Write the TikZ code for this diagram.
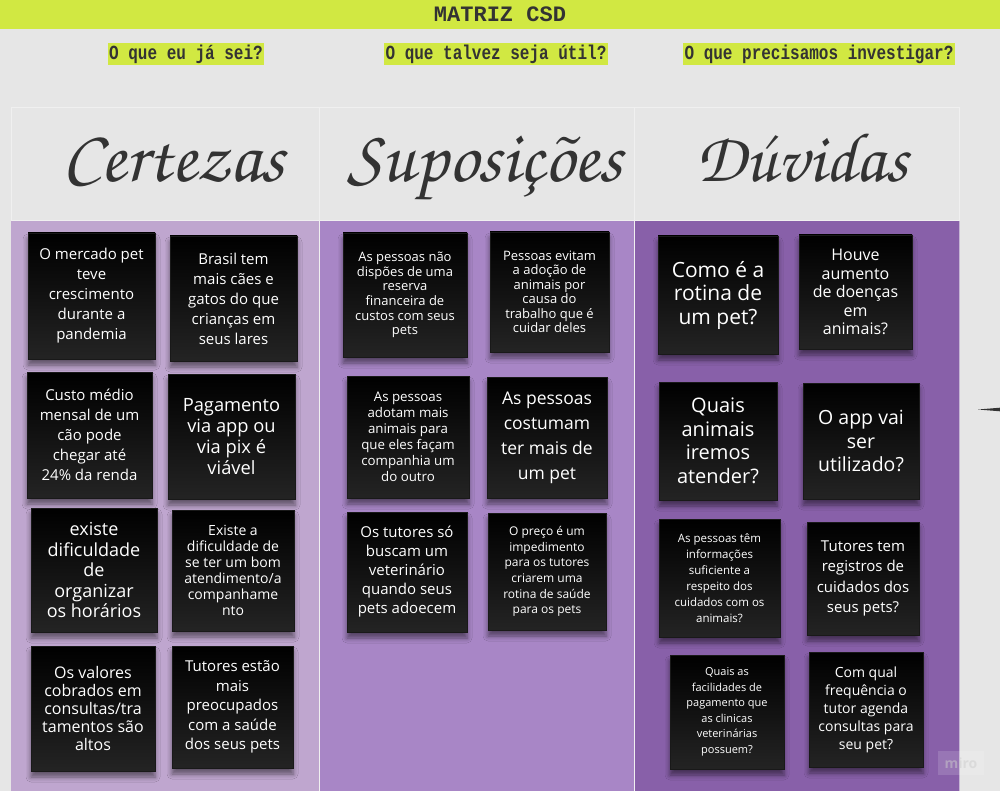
\documentclass[tikz,border=0pt]{standalone}
\usepackage[T1]{fontenc}
\usepackage{fontspec}
\setmainfont{Open Sans}
\newfontfamily\monof{Liberation Mono}
\newfontfamily\monol{Liberation Mono}[FakeStretch=0.8]
\usetikzlibrary{shadows.blur}
\newcommand\handfont{\fontencoding{T1}\fontfamily{pzc}\fontseries{m}\fontshape{it}\selectfont}
\definecolor{lime}{HTML}{D1E842}
\definecolor{bggray}{HTML}{E6E6E6}
\definecolor{edgegray}{HTML}{F0F0F0}
\definecolor{pA}{HTML}{BFA6CF}
\definecolor{pB}{HTML}{A886C6}
\definecolor{pC}{HTML}{8860A9}
\definecolor{ink}{HTML}{333333}
\begin{document}
\begin{tikzpicture}[x=1pt,y=-1pt,
  fs/.style 2 args={font=\fontsize{#1}{#2}\selectfont},
  note/.style={draw=black!90!white, line width=0.4pt, top color=black, bottom color=black!86!white,
    text=white, align=center, inner sep=2pt,
    blur shadow={shadow xshift=0pt, shadow yshift=-6pt, shadow opacity=50, shadow blur radius=5pt}},
  lbl/.style={fill=lime, text=ink, inner xsep=1.5pt, inner ysep=0pt, minimum height=22pt,
    font=\monol\bfseries\fontsize{20}{20}\selectfont},
  heading/.style={anchor=base, text=ink, font=\handfont\fontsize{74}{74}\selectfont}]
\fill[bggray] (0,0) rectangle (1000,791);
\useasboundingbox (0,0) rectangle (1000,791);
% title bar
\fill[lime] (0,0) rectangle (1000,29);
\node[text=ink, font=\monof\bfseries\fontsize{22}{22}\selectfont] (title) at (500,14.5) {MATRIZ CSD};
% question labels
\node[lbl] (l1) at (186,54) {O que eu já sei?};
\node[lbl] (l2) at (496,54) {O que talvez seja útil?};
\node[lbl] (l3) at (819,54) {O que precisamos investigar?};
% board
\fill[pA] (11,221) rectangle (319,791);
\fill[pB] (319,221) rectangle (634,791);
\fill[pC] (634,221) rectangle (959,791);
\draw[edgegray, line width=1pt] (11,108) rectangle (959,221);
\draw[edgegray, line width=1pt] (319,108) -- (319,791);
\draw[edgegray, line width=1pt] (634,108) -- (634,791);
\draw[edgegray!60!pC, line width=1pt] (959,221) -- (959,791);
% headings
\node[heading] (hC) at (173,182) {Certezas};
\node[heading] (hS) at (485,182) {Suposi\c{c}\~oes};
\node[heading, font=\handfont\fontsize{70}{70}\selectfont] (hD) at (802,182) {D\'uvidas};
% Certezas
\node[note, minimum width=127pt, minimum height=126pt, fs={15}{20}] (c1) at (91.5,296) {O mercado pet\\teve\\crescimento\\durante a\\pandemia};
\node[note, minimum width=127pt, minimum height=125pt, fs={15}{20}] (c2) at (233.5,298.5) {Brasil tem\\mais cães e\\gatos do que\\crianças em\\seus lares};
\node[note, minimum width=125pt, minimum height=126pt, fs={15}{20}] (c3) at (89.5,435) {Custo médio\\mensal de um\\cão pode\\chegar até\\24\% da renda};
\node[note, minimum width=127pt, minimum height=125pt, fs={18.3}{21}] (c4) at (231.5,436.5) {Pagamento\\via app ou\\via pix é\\viável};
\node[note, minimum width=126pt, minimum height=124pt, fs={18}{20.5}] (c5) at (94,570) {existe\\dificuldade\\de\\organizar\\os horários};
\node[note, minimum width=122pt, minimum height=121pt, fs={14}{16}] (c6) at (233,570.5) {Existe a\\dificuldade de\\se ter um bom\\atendimento/a\\companhame\\nto};
\node[note, minimum width=124pt, minimum height=125pt, fs={16}{18}] (c7) at (93,708.5) {Os valores\\cobrados em\\consultas/tra\\tamentos são\\altos};
\node[note, minimum width=121pt, minimum height=122pt, fs={15}{19.5}] (c8) at (232.5,707) {Tutores estão\\mais\\preocupados\\com a saúde\\dos seus pets};
% Suposicoes
\node[note, minimum width=124pt, minimum height=124pt, fs={13}{14.7}] (s1) at (405,295) {As pessoas não\\dispões de uma\\reserva\\financeira de\\custos com seus\\pets};
\node[note, minimum width=119pt, minimum height=120pt, fs={13}{14.5}] (s2) at (549.5,292) {Pessoas evitam\\a adoção de\\animais por\\causa do\\trabalho que é\\cuidar deles};
\node[note, minimum width=122pt, minimum height=122pt, fs={13.3}{16}] (s3) at (408,437) {As pessoas\\adotam mais\\animais para\\que eles façam\\companhia um\\do outro};
\node[note, minimum width=120pt, minimum height=121pt, fs={17.5}{25}] (s4) at (547,437.5) {As pessoas\\costumam\\ter mais de\\um pet};
\node[note, minimum width=120pt, minimum height=120pt, fs={15}{19}] (s5) at (407,572) {Os tutores só\\buscam um\\veterinário\\quando seus\\pets adoecem};
\node[note, minimum width=118pt, minimum height=117pt, fs={12}{15.7}] (s6) at (547,571.5) {O preço é um\\impedimento\\para os tutores\\criarem uma\\rotina de saúde\\para os pets};
% Duvidas
\node[note, minimum width=120pt, minimum height=118pt, fs={21}{23.5}] (d1) at (718,295) {Como é a\\rotina de\\um pet?};
\node[note, minimum width=113pt, minimum height=114pt, fs={16}{18.5}] (d2) at (855.5,292) {Houve\\aumento\\de doenças\\em\\animais?};
\node[note, minimum width=118pt, minimum height=118pt, fs={20}{23.5}] (d3) at (718,441) {Quais\\animais\\iremos\\atender?};
\node[note, minimum width=116pt, minimum height=116pt, fs={19.5}{23.5}] (d4) at (861,441) {O app vai\\ser\\utilizado?};
\node[note, minimum width=121pt, minimum height=118pt, fs={11.5}{16}] (d5) at (719.5,578) {As pessoas têm\\informações\\suficiente a\\respeito dos\\cuidados com os\\animais?};
\node[note, minimum width=112pt, minimum height=113pt, fs={15}{20.5}] (d6) at (863,578.5) {Tutores tem\\registros de\\cuidados dos\\seus pets?};
\node[note, minimum width=114pt, minimum height=114pt, fs={11}{15.5}] (d7) at (727,712) {Quais as\\facilidades de\\pagamento que\\as clinicas\\veterinárias\\possuem?};
\node[note, minimum width=114pt, minimum height=115pt, fs={14}{18}] (d8) at (866,709.5) {Com qual\\frequência o\\tutor agenda\\consultas para\\seu pet?};
% connector fragment entering from the right
\coordinate (cA) at (978,409.5);
\coordinate (cB) at (1000,409.5);
\fill[ink] (cA) -- ([yshift=1.8pt]cB) -- ([yshift=-1.8pt]cB) -- cycle;
% watermark
\node[fill=white, fill opacity=0.14, text=white!80!black, text opacity=0.5, minimum width=46pt, minimum height=24pt, inner sep=0pt,
  font=\bfseries\fontsize{14}{14}\selectfont] (miro) at (961,763) {miro};
\end{tikzpicture}
\end{document}
